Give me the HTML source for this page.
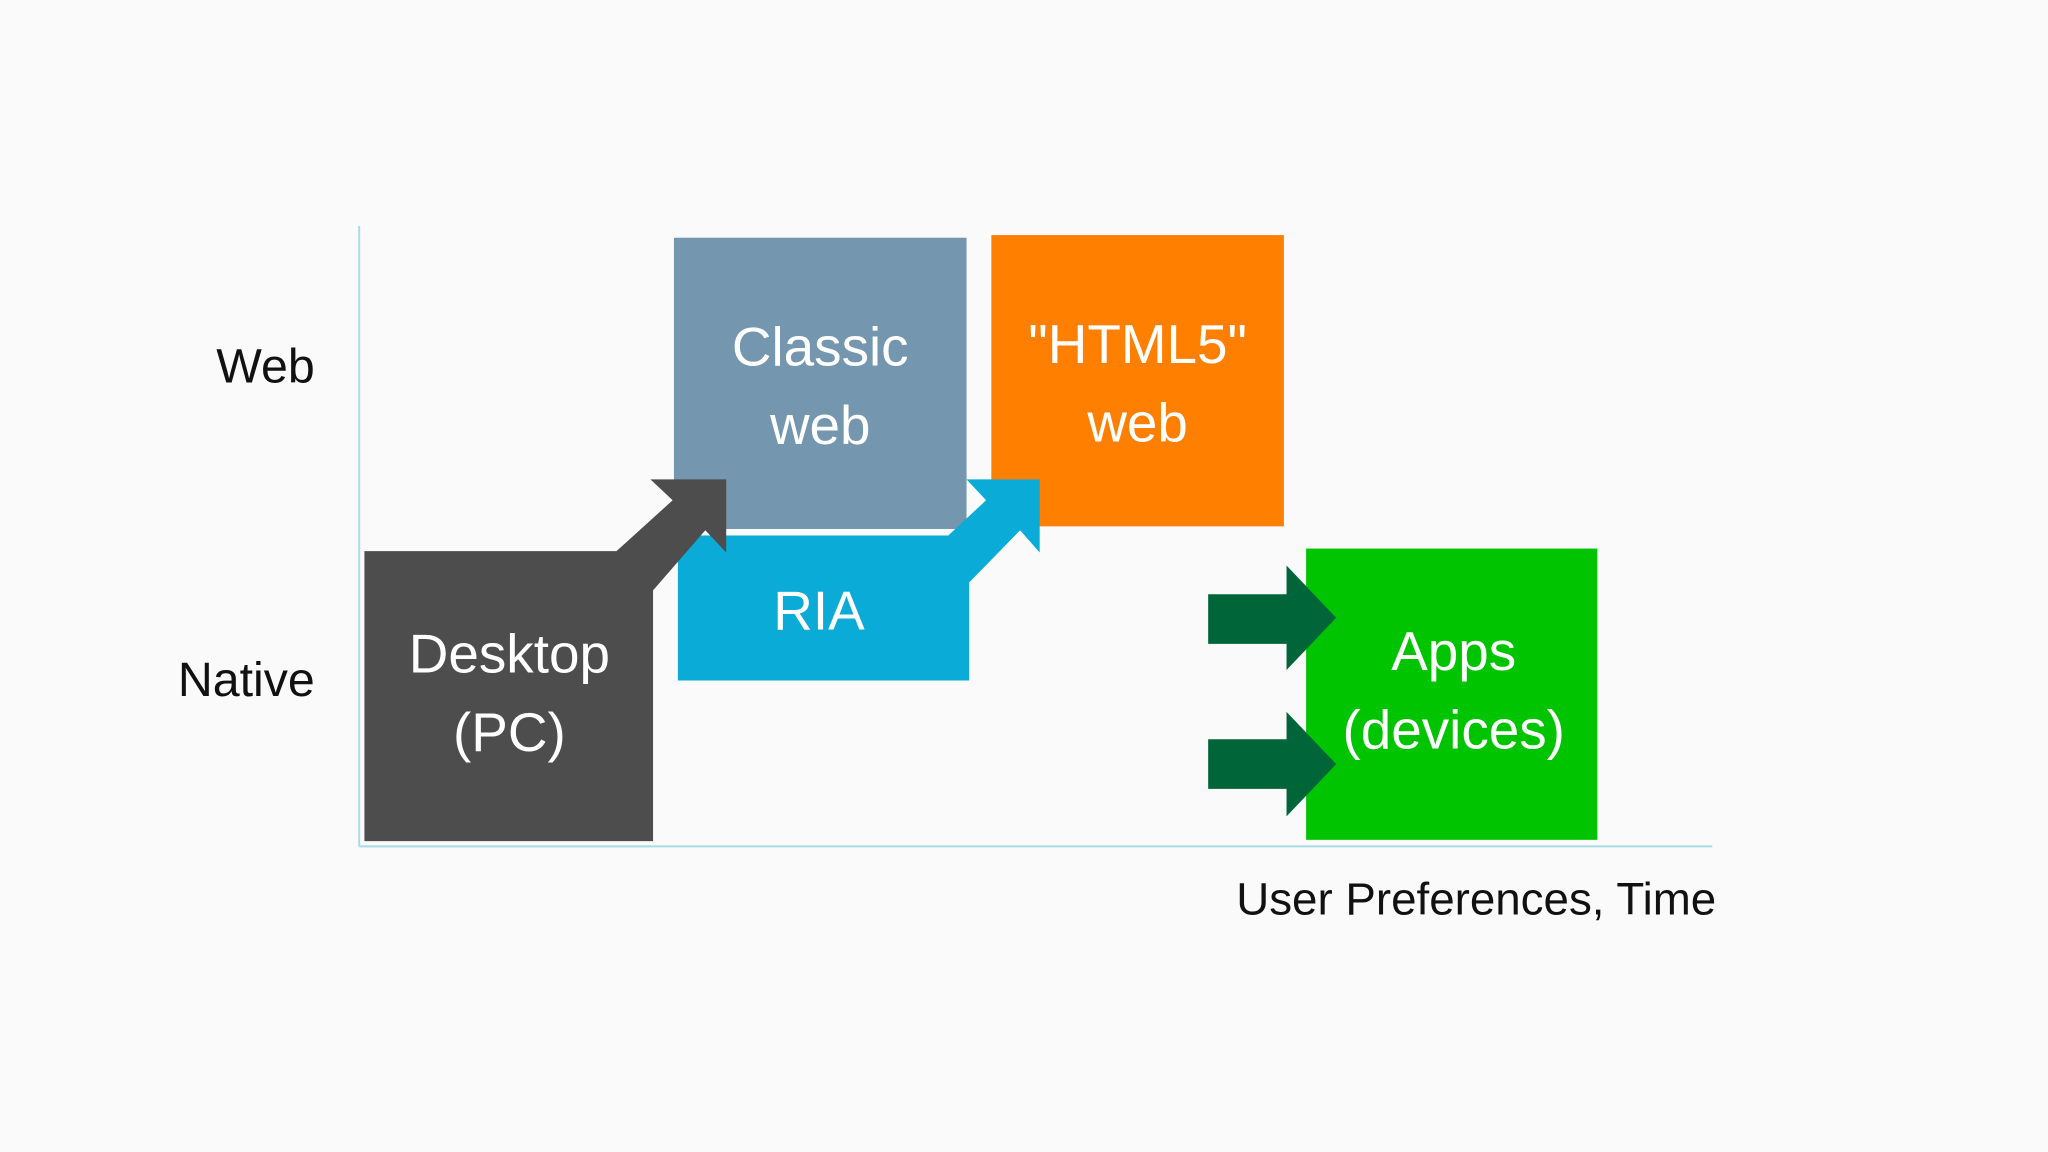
<!DOCTYPE html>
<html><head><meta charset="utf-8"><style>
html,body{margin:0;padding:0;background:#fafafa;}
svg{display:block;}
text{font-family:"Liberation Sans",sans-serif;}
</style></head><body>
<svg width="2048" height="1152" viewBox="0 0 1568 882" xmlns="http://www.w3.org/2000/svg">
<rect width="1568" height="882" fill="#fafafa"/>
<!-- axes -->
<line x1="275" y1="173" x2="275" y2="648" stroke="#a8dbe8" stroke-width="1.5"/>
<line x1="275" y1="648" x2="1311" y2="648" stroke="#a8dbe8" stroke-width="1.5"/>
<text x="241" y="293" font-size="37" text-anchor="end" fill="#111">Web</text>
<text x="241" y="533" font-size="37" text-anchor="end" fill="#111">Native</text>
<text x="1314" y="700" font-size="35" text-anchor="end" fill="#111">User Preferences, Time</text>

<!-- Classic web -->
<rect x="516" y="182" width="224" height="223" fill="#7496ae"/>
<text x="628" y="280" font-size="42" text-anchor="middle" fill="#fff">Classic</text>
<text x="628" y="340" font-size="42" text-anchor="middle" fill="#fff">web</text>

<!-- HTML5 -->
<rect x="759" y="180" width="224" height="223" fill="#ff7f00"/>
<text x="871" y="278" font-size="42" text-anchor="middle" fill="#fff">"HTML5"</text>
<text x="871" y="338" font-size="42" text-anchor="middle" fill="#fff">web</text>

<!-- RIA + arrow -->
<polygon points="519,410 726,410 755,383 740,367 796,367 796,423 781,406 742,446 742,521 519,521" fill="#0babd7"/>
<text x="627" y="482" font-size="42" text-anchor="middle" fill="#fff">RIA</text>

<!-- Desktop + arrow -->
<polygon points="279,422 472,422 515,383 498,367 556,367 556,423 540,406 500,452 500,644 279,644" fill="#4d4d4d"/>
<text x="390" y="515" font-size="42" text-anchor="middle" fill="#fff">Desktop</text>
<text x="390" y="575" font-size="42" text-anchor="middle" fill="#fff">(PC)</text>

<!-- Apps -->
<rect x="1000" y="420" width="223" height="223" fill="#00c400"/>
<polygon points="925,455 985,455 985,433 1023,473 985,513 985,493 925,493" fill="#00663a"/>
<polygon points="925,566 985,566 985,545 1023,585 985,625 985,604 925,604" fill="#00663a"/>
<text x="1113" y="513" font-size="42" text-anchor="middle" fill="#fff">Apps</text>
<text x="1113" y="573" font-size="42" text-anchor="middle" fill="#fff">(devices)</text>
</svg>
</body></html>
